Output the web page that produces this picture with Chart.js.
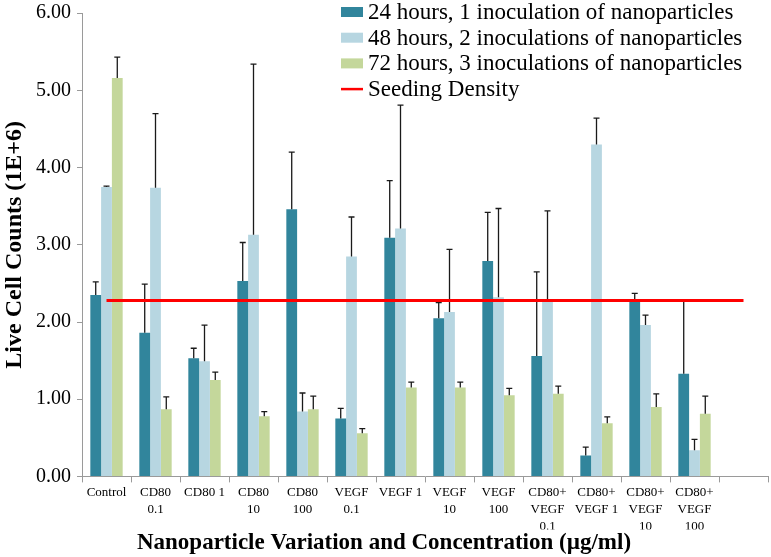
<!DOCTYPE html>
<html>
<head>
<meta charset="utf-8">
<script src="https://cdn.jsdelivr.net/npm/chart.js@4.4.0/dist/chart.umd.min.js"></script>
<style>
  html, body { margin: 0; padding: 0; background: #fff; }
  #wrap { width: 771px; height: 557px; position: relative; }
</style>
</head>
<body>
<div id="wrap"><canvas id="cellChart"></canvas></div>
<script>
const categories = [
  'Control', ['CD80', '0.1'], 'CD80 1', ['CD80', '10'], ['CD80', '100'],
  ['VEGF', '0.1'], 'VEGF 1', ['VEGF', '10'], ['VEGF', '100'],
  ['CD80+', 'VEGF', '0.1'], ['CD80+', 'VEGF 1'], ['CD80+', 'VEGF', '10'], ['CD80+', 'VEGF', '100'],
  ''
];

const seriesNames = [
  '24 hours, 1 inoculation of nanoparticles',
  '48 hours, 2 inoculations of nanoparticles',
  '72 hours, 3 inoculations of nanoparticles'
];

const counts24h = [2.35, 1.86, 1.53, 2.53, 3.46, 0.75, 3.09, 2.05, 2.79, 1.56, 0.27, 2.27, 1.33];
const counts48h = [3.75, 3.74, 1.49, 3.13, 0.84, 2.85, 3.21, 2.13, 2.32, 2.26, 4.30, 1.96, 0.34];
const counts72h = [5.16, 0.87, 1.25, 0.78, 0.87, 0.56, 1.15, 1.15, 1.05, 1.07, 0.69, 0.90, 0.81];

// upper end of each error bar
const errHigh24h = [2.52, 2.49, 1.66, 3.03, 4.20, 0.88, 3.83, 2.25, 3.42, 2.65, 0.38, 2.37, 2.28];
const errHigh48h = [3.76, 4.70, 1.96, 5.34, 1.08, 3.36, 4.81, 2.94, 3.47, 3.44, 4.64, 2.09, 0.48];
const errHigh72h = [5.43, 1.03, 1.35, 0.84, 1.04, 0.62, 1.22, 1.22, 1.14, 1.17, 0.77, 1.07, 1.04];

const seedingDensity = [2.28, 2.28, 2.28, 2.28, 2.28, 2.28, 2.28, 2.28, 2.28, 2.28, 2.28, 2.28, 2.28, 2.28];

const yTicks = [0, 1, 2, 3, 4, 5, 6];

const serif = "'Liberation Serif', 'Times New Roman', serif";

const errorBars = {
  id: 'errorBars',
  afterDatasetDraw(chart, args) {
    const ds = chart.data.datasets[args.index];
    if (!ds.errHigh) return;
    const ctx = chart.ctx;
    const y = chart.scales.y;
    ctx.save();
    ctx.strokeStyle = '#1a1a1a';
    ctx.lineWidth = 1.3;
    args.meta.data.forEach((bar, i) => {
      if (ds.errHigh[i] == null) return;
      const top = y.getPixelForValue(ds.errHigh[i]);
      ctx.beginPath();
      ctx.moveTo(bar.x, bar.y);
      ctx.lineTo(bar.x, top);
      ctx.moveTo(bar.x - 3, top);
      ctx.lineTo(bar.x + 3, top);
      ctx.stroke();
    });
    ctx.restore();
  }
};

const insideLegend = {
  id: 'insideLegend',
  afterDraw(chart) {
    const ctx = chart.ctx;
    const x0 = 341, y0 = 12, step = 25.7;
    ctx.save();
    ctx.font = '23px ' + serif;
    ctx.textBaseline = 'middle';
    chart.data.datasets.forEach((ds, i) => {
      const yy = y0 + i * step;
      if (ds.type === 'line') {
        ctx.strokeStyle = ds.borderColor;
        ctx.lineWidth = 2.5;
        ctx.beginPath();
        ctx.moveTo(x0, yy);
        ctx.lineTo(x0 + 22, yy);
        ctx.stroke();
      } else {
        ctx.fillStyle = ds.backgroundColor;
        ctx.fillRect(x0, yy - 5, 22, 10);
      }
      ctx.fillStyle = '#000';
      ctx.fillText(ds.label, x0 + 27, yy + 1);
    });
    ctx.restore();
  }
};

new Chart(document.getElementById('cellChart'), {
  data: {
    labels: categories,
    datasets: [
      { type: 'bar', label: seriesNames[0], data: counts24h, errHigh: errHigh24h, backgroundColor: '#31859C', order: 1 },
      { type: 'bar', label: seriesNames[1], data: counts48h, errHigh: errHigh48h, backgroundColor: '#B7D6E1', order: 2 },
      { type: 'bar', label: seriesNames[2], data: counts72h, errHigh: errHigh72h, backgroundColor: '#C4D79B', order: 3 },
      { type: 'line', label: 'Seeding Density', data: seedingDensity, borderColor: '#FF0000', borderWidth: 3, pointRadius: 0, order: 0 }
    ]
  },
  options: {
    responsive: true,
    maintainAspectRatio: false,
    animation: false,
    datasets: {
      bar: { categoryPercentage: 0.66, barPercentage: 1.0 }
    },
    layout: { padding: { top: 0, right: 3, left: 0, bottom: 0 } },
    scales: {
      x: {
        type: 'category',
        offset: true,
        grid: { display: true, drawOnChartArea: false, offset: true, tickLength: 6, color: '#9a9a9a' },
        border: { color: '#9a9a9a' },
        ticks: {
          font: { family: serif, size: 13, lineHeight: 1.3 },
          color: '#000',
          maxRotation: 0,
          autoSkip: false,
          padding: 2
        },
        afterFit(scale) { scale.height = 53; }
      },
      y: {
        min: 0,
        max: 6,
        afterBuildTicks(scale) { scale.ticks = yTicks.map(v => ({ value: v })); },
        grid: { display: true, drawOnChartArea: false, tickLength: 5, color: '#9a9a9a' },
        border: { color: '#9a9a9a' },
        ticks: {
          font: { family: serif, size: 20, lineHeight: 0.72 },
          color: '#000',
          padding: 6,
          callback: v => v.toFixed(2)
        },
        title: {
          display: true,
          text: 'Live Cell Counts (1E+6)',
          font: { family: serif, size: 24, weight: 'bold' },
          color: '#000',
          padding: 0
        },
        afterFit(scale) { scale.width = 82; }
      }
    },
    plugins: {
      legend: { display: false },
      tooltip: { enabled: false },
      title: {
        display: true,
        position: 'bottom',
        text: 'Nanoparticle Variation and Concentration (µg/ml)',
        font: { family: serif, size: 23, weight: 'bold' },
        color: '#000',
        padding: { top: 0, bottom: 0 }
      }
    }
  },
  plugins: [errorBars, insideLegend]
});
</script>
</body>
</html>
